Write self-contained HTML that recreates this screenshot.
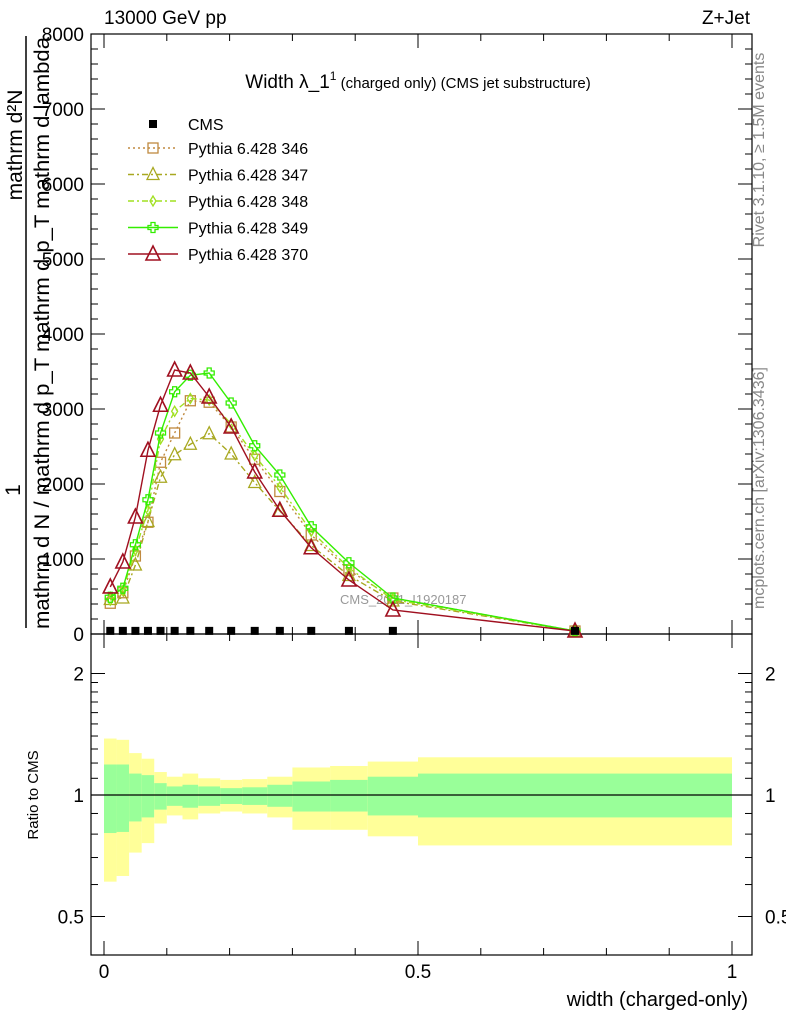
<!DOCTYPE html>
<html><head><meta charset="utf-8"><style>
body{margin:0;background:#fff}
svg text{font-family:"Liberation Sans",sans-serif}
</style></head><body>
<svg id="c" width="786" height="1024" xmlns="http://www.w3.org/2000/svg">
<text x="104" y="24" font-size="19">13000 GeV pp</text>
<text x="750" y="24" font-size="19" text-anchor="end">Z+Jet</text>
<text x="418" y="88" font-size="19" text-anchor="middle">Width λ_1<tspan font-size="12" dy="-8">1</tspan><tspan font-size="15" dy="8"> (charged only) (CMS jet substructure)</tspan></text>
<text transform="translate(764,150) rotate(-90)" font-size="16" fill="#888" text-anchor="middle">Rivet 3.1.10, ≥ 1.5M events</text>
<text transform="translate(764,488) rotate(-90)" font-size="16" fill="#888" text-anchor="middle">mcplots.cern.ch [arXiv:1306.3436]</text>
<text x="340" y="604" font-size="13" fill="#999">CMS_2021_I1920187</text>
<text transform="translate(22,145) rotate(-90)" font-size="21" text-anchor="middle">mathrm d²N</text>
<line x1="26" y1="36" x2="26" y2="628" stroke="#000" stroke-width="1.5"/>
<text transform="translate(20,490) rotate(-90)" font-size="21" text-anchor="middle">1</text>
<text transform="translate(49,333) rotate(-90)" font-size="21" text-anchor="middle" textLength="592" lengthAdjust="spacingAndGlyphs">mathrm d N / mathrm d p_T mathrm d p_T mathrm d lambda</text>
<text transform="translate(38,795) rotate(-90)" font-size="15" text-anchor="middle">Ratio to CMS</text>
<text x="748" y="1006" font-size="20" text-anchor="end">width (charged-only)</text>
<g id="g"></g>
</svg>
<script>
const edges=[0,0.02,0.04,0.06,0.08,0.1,0.125,0.15,0.185,0.22,0.26,0.3,0.36,0.42,0.5,1.0];
const centers=[0.01,0.03,0.05,0.07,0.09,0.1125,0.1375,0.1675,0.2025,0.24,0.28,0.33,0.39,0.46,0.75];
const cms=[15,15,15,15,15,15,15,15,15,15,15,15,15,15,15];
const p346=[410,550,1040,1490,2290,2680,3110,3090,2760,2330,1900,1320,850,480,40];
const p347=[460,480,920,1500,2090,2390,2530,2670,2400,2020,1640,1180,780,440,40];
const p348=[450,580,1120,1650,2600,2970,3140,3120,2800,2380,1960,1370,880,460,40];
const p349=[490,610,1190,1790,2680,3230,3450,3480,3080,2510,2120,1430,950,480,40];
const p370=[627,960,1560,2450,3050,3520,3480,3160,2760,2160,1650,1150,720,320,40];
const yelHi=[1.38,1.37,1.27,1.23,1.14,1.11,1.13,1.10,1.09,1.095,1.11,1.17,1.18,1.21,1.24];
const grnHi=[1.19,1.19,1.13,1.12,1.07,1.05,1.06,1.05,1.04,1.045,1.06,1.08,1.09,1.11,1.13];
const grnLo=[0.805,0.81,0.86,0.88,0.92,0.94,0.93,0.94,0.95,0.945,0.935,0.91,0.91,0.89,0.88];
const yelLo=[0.61,0.63,0.72,0.76,0.85,0.89,0.87,0.90,0.91,0.90,0.88,0.82,0.82,0.79,0.75];
const yTicks=[0,1000,2000,3000,4000,5000,6000,7000,8000];
const rTicks=[0.5,1,2];
const xTicks=[0,0.5,1];
const X=v=>104+628*v, Y=v=>634-600*v/8000, R=r=>795-121.5*Math.log2(r);
const NS="http://www.w3.org/2000/svg", g=document.getElementById('g');
function mk(t,a,p){const e=document.createElementNS(NS,t);for(const k in a)e.setAttribute(k,a[k]);(p||g).appendChild(e);return e;}
for(let i=0;i<centers.length;i++){
 const x0=X(edges[i]),w=X(edges[i+1])-x0;
 let e=mk('rect',{x:x0,y:R(yelHi[i]),width:w,height:R(yelLo[i])-R(yelHi[i]),fill:'#ffff99'});
 
 
 e=mk('rect',{x:x0,y:R(grnHi[i]),width:w,height:R(grnLo[i])-R(grnHi[i]),fill:'#99ff99'});
 
 
}
mk('line',{x1:91,x2:752,y1:R(1),y2:R(1),stroke:'#000','stroke-width':1.2});
let f=mk('rect',{x:91,y:34,width:661,height:600,fill:'none',stroke:'#000','stroke-width':1.2});


f=mk('rect',{x:91,y:634,width:661,height:321,fill:'none',stroke:'#000','stroke-width':1.2});


for(let v=0;v<=8000;v+=200){const y=Y(v),L=v%1000==0?14:7;
 mk('line',{x1:91,x2:91+L,y1:y,y2:y,stroke:'#000'});mk('line',{x1:752,x2:752-L,y1:y,y2:y,stroke:'#000'});}
yTicks.forEach(v=>{const t=mk('text',{x:84,y:Y(v)+7,'font-size':19,'text-anchor':'end'});t.textContent=v;
 
 });
[0.5,0.6,0.7,0.8,0.9,1,1.1,1.2,1.3,1.4,1.5,1.6,1.7,1.8,1.9,2].forEach(r=>{const y=R(r),L=rTicks.includes(r)?14:7;
 mk('line',{x1:91,x2:91+L,y1:y,y2:y,stroke:'#000'});mk('line',{x1:752,x2:752-L,y1:y,y2:y,stroke:'#000'});});
rTicks.forEach(r=>{[[84,'end'],[752+13,'start']].forEach(([x,a])=>{const t=mk('text',{x:x,y:R(r)+7,'font-size':19,'text-anchor':a});t.textContent=r;
 
 });});
for(let i=0;i<=10;i++){const v=i/10,x=X(v),L=i%5==0?14:7;
 [[34,1],[634,-1],[634,1],[955,-1]].forEach(([y0,d])=>mk('line',{x1:x,x2:x,y1:y0,y2:y0+d*L,stroke:'#000'}));}
xTicks.forEach(v=>{const t=mk('text',{x:X(v),y:978,'font-size':19,'text-anchor':'middle'});t.textContent=v;
 
 });
function marker(type,x,y,c,p){
 if(type=='sq')mk('rect',{x:x-5,y:y-5,width:10,height:10,fill:'none',stroke:c,'stroke-width':1.3},p);
 else if(type=='tri')mk('polygon',{points:`${x},${y-7} ${x-6},${y+5} ${x+6},${y+5}`,fill:'none',stroke:c,'stroke-width':1.3},p);
 else if(type=='bigtri')mk('polygon',{points:`${x},${y-8} ${x-7},${y+6} ${x+7},${y+6}`,fill:'none',stroke:c,'stroke-width':1.6},p);
 else if(type=='dia')mk('polygon',{points:`${x},${y-5} ${x-3},${y} ${x},${y+5} ${x+3},${y}`,fill:'none',stroke:c,'stroke-width':1.3},p);
 else if(type=='plus')mk('path',{d:`M${x-2},${y-5}h4v3h3v4h-3v3h-4v-3h-3v-4h3z`,fill:'none',stroke:c,'stroke-width':1.3},p);
 else mk('rect',{x:x-4,y:y-4,width:8,height:8,fill:c},p);
}
const series=[
 {d:p346,c:'#c08a40',dash:'2,3',m:'sq',n:'Pythia 6.428 346'},
 {d:p347,c:'#a8a820',dash:'6,3,2,3',m:'tri',n:'Pythia 6.428 347'},
 {d:p348,c:'#a0e020',dash:'6,3,2,3',m:'dia',n:'Pythia 6.428 348'},
 {d:p349,c:'#33ee00',dash:'',m:'plus',n:'Pythia 6.428 349'},
 {d:p370,c:'#a01020',dash:'',m:'bigtri',n:'Pythia 6.428 370'}];
series.forEach((s,k)=>{
 const grp=mk('g',{});
 
 
 mk('polyline',{points:s.d.map((v,i)=>X(centers[i])+','+Y(v)).join(' '),fill:'none',stroke:s.c,'stroke-width':1.4,'stroke-dasharray':s.dash},grp);
 s.d.forEach((v,i)=>marker(s.m,X(centers[i]),Y(v),s.c,grp));
 const ly=148+k*26.5;
 const lg=mk('g',{});
 
 
 mk('line',{x1:128,x2:178,y1:ly,y2:ly,stroke:s.c,'stroke-width':1.4,'stroke-dasharray':s.dash},lg);
 marker(s.m,153,ly,s.c,lg);
 const t=mk('text',{x:188,y:ly+6,'font-size':16},lg);t.textContent=s.n;
});
const cg=mk('g',{});


cms.forEach((v,i)=>marker('fill',X(centers[i]),Y(v)-2,'#000',cg));
const lc=mk('g',{});


marker('fill',153,124,'#000',lc);
const tc=mk('text',{x:188,y:130,'font-size':16},lc);tc.textContent='CMS';
</script>
</body></html>
